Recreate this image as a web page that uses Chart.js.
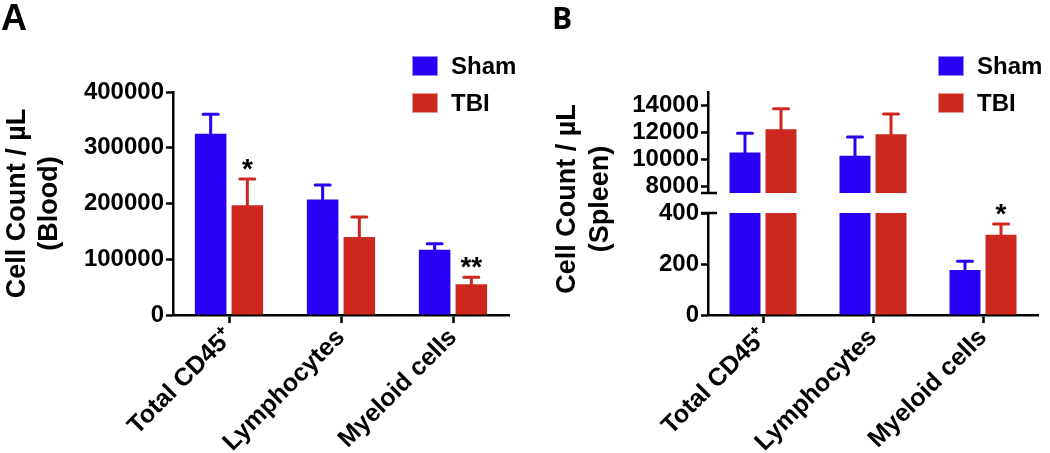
<!DOCTYPE html>
<html>
<head>
<meta charset="utf-8">
<script src="https://cdn.jsdelivr.net/npm/chart.js@4.4.1/dist/chart.umd.min.js"></script>
<style>
body { margin: 0; background: #fff; width: 1050px; height: 453px; overflow: hidden; position: relative; font-family: "Liberation Sans", Arial, sans-serif; }
canvas { position: absolute; top: 0; }
.letter { position: absolute; font-weight: bold; line-height: 1; color: #000; }
.key { position: absolute; width: 26px; height: 20px; box-sizing: border-box; }
.keytext { position: absolute; font-weight: bold; font-size: 24px; line-height: 24px; color: #000; }
#spleenTitle { position: absolute; left: 468px; top: 166px; width: 230px; height: 66px; text-align: center; font-weight: bold; font-size: 27px; line-height: 33px; transform: rotate(-90deg); white-space: nowrap; }
</style>
</head>
<body>
<canvas id="bloodChart" width="520" height="453" style="left:0px"></canvas>
<canvas id="spleenHigh" width="530" height="453" style="left:520px"></canvas>
<canvas id="spleenLow" width="530" height="453" style="left:520px"></canvas>

<div class="letter" style="left:1px;top:0px;font-size:36px;">A</div>
<div class="letter" style="left:552px;top:3px;font-size:30px;font-family:'Open Sans',sans-serif;font-weight:700;">B</div>

<div class="key" style="left:412px;top:56px;background:#2a00f5;border:1px solid #8f86ff;"></div>
<div class="keytext" style="left:451px;top:54px;">Sham</div>
<div class="key" style="left:412px;top:93px;background:#cc281f;border:1px solid #e89a94;"></div>
<div class="keytext" style="left:451px;top:91px;">TBI</div>

<div class="key" style="left:938px;top:56px;background:#2a00f5;border:1px solid #8f86ff;"></div>
<div class="keytext" style="left:977px;top:54px;">Sham</div>
<div class="key" style="left:938px;top:93px;background:#cc281f;border:1px solid #e89a94;"></div>
<div class="keytext" style="left:977px;top:91px;">TBI</div>

<div id="spleenTitle">Cell Count / µL<br>(Spleen)</div>

<script>
var categories = ["Total CD45⁺", "Lymphocytes", "Myeloid cells"];
var seriesNames = ["Sham", "TBI"];
var shamColor = "#2a00f5";
var tbiColor = "#cc281f";

// panel A, blood
var bloodSham = [325000, 207000, 117000];
var bloodShamErr = [35000, 26000, 11000];
var bloodTbi = [197000, 140000, 55000];
var bloodTbiErr = [47000, 36000, 12500];
var bloodTbiStars = ["*", "", "**"];
var bloodTicks = [0, 100000, 200000, 300000, 400000];
var bloodRange = [0, 400000];

// panel B, spleen (broken axis)
var spleenSham = [10500, 10270, 176];
var spleenShamErr = [1430, 1390, 35];
var spleenTbi = [12230, 11860, 315];
var spleenTbiErr = [1530, 1500, 42];
var spleenTbiStars = ["", "", "*"];
var spleenHighTicks = [8000, 10000, 12000, 14000];
var spleenHighRange = [7500, 15000];
var spleenLowTicks = [0, 200, 400];
var spleenLowRange = [0, 400];

var fontFamily = "'Liberation Sans', Arial, sans-serif";

// error bars (upper half only) and significance stars
var errorBars = {
    id: "errorBars",
    afterDatasetsDraw: function (chart) {
        var ctx = chart.ctx;
        var area = chart.chartArea;
        var y = chart.scales.y;
        chart.data.datasets.forEach(function (ds, d) {
            var meta = chart.getDatasetMeta(d);
            meta.data.forEach(function (bar, i) {
                var val = ds.data[i];
                var top = val + ds.errors[i];
                var yVal = y.getPixelForValue(val);
                var yTop = y.getPixelForValue(top);

                ctx.save();
                ctx.beginPath();
                ctx.rect(area.left, area.top, area.right - area.left, area.bottom - area.top);
                ctx.clip();
                ctx.strokeStyle = ds.backgroundColor;
                ctx.lineWidth = 3;
                ctx.lineCap = "round";
                ctx.beginPath();
                ctx.moveTo(bar.x, yVal);
                ctx.lineTo(bar.x, yTop);
                ctx.moveTo(bar.x - 7.5, yTop);
                ctx.lineTo(bar.x + 7.5, yTop);
                ctx.stroke();
                ctx.restore();

                var star = ds.stars ? ds.stars[i] : "";
                if (star && top >= y.min && top <= y.max) {
                    ctx.save();
                    ctx.fillStyle = "#000";
                    ctx.font = "bold 28px " + fontFamily;
                    ctx.textAlign = "center";
                    ctx.textBaseline = "alphabetic";
                    ctx.fillText(star, bar.x, yTop - 1);
                    ctx.restore();
                }
            });
        });
    }
};

// little horizontal marks where the spleen axis is broken
var axisBreak = {
    id: "axisBreak",
    afterDraw: function (chart, args, opts) {
        if (!opts.at) return;
        var ctx = chart.ctx;
        var area = chart.chartArea;
        var yPix = opts.at === "bottom" ? area.bottom : area.top;
        ctx.save();
        ctx.strokeStyle = "#000";
        ctx.lineWidth = 2.5;
        ctx.beginPath();
        ctx.moveTo(area.left - 7, yPix);
        ctx.lineTo(area.left + 9, yPix);
        ctx.stroke();
        ctx.restore();
    }
};

function makeDatasets(sham, shamErr, tbi, tbiErr, tbiStars) {
    return [
        { label: seriesNames[0], data: sham, errors: shamErr, stars: null, backgroundColor: shamColor,
          barPercentage: 0.86, categoryPercentage: 0.655 },
        { label: seriesNames[1], data: tbi, errors: tbiErr, stars: tbiStars, backgroundColor: tbiColor,
          barPercentage: 0.86, categoryPercentage: 0.655 }
    ];
}

function yAxis(range, ticks, width, title) {
    return {
        type: "linear",
        min: range[0],
        max: range[1],
        afterBuildTicks: function (scale) {
            scale.ticks = ticks.map(function (v) { return { value: v }; });
        },
        afterFit: function (scale) { scale.width = width; },
        ticks: {
            color: "#000",
            padding: 2,
            font: { family: fontFamily, size: 24, weight: "bold" },
            callback: function (v) { return String(v); }
        },
        grid: { drawOnChartArea: false, drawTicks: true, tickLength: 7, tickWidth: 2.5, tickColor: "#000" },
        border: { display: true, color: "#000", width: 2.5 },
        title: title ? {
            display: true,
            text: title,
            color: "#000",
            padding: { top: 1, bottom: 0 },
            font: { family: fontFamily, size: 27, weight: "bold", lineHeight: 1.2 }
        } : { display: false }
    };
}

function xAxis(show) {
    return {
        type: "category",
        display: show,
        afterFit: function (scale) { if (show) scale.height = 138; },
        ticks: {
            color: "#000",
            autoSkip: false,
            maxRotation: 45,
            minRotation: 45,
            padding: 0,
            font: { family: fontFamily, size: 25, weight: "bold" }
        },
        grid: { offset: false, drawOnChartArea: false, drawTicks: true, tickLength: 8, tickWidth: 2.5, tickColor: "#000" },
        border: { display: true, color: "#000", width: 2.5 }
    };
}

function makeChart(id, datasets, padding, y, x, breakAt) {
    return new Chart(document.getElementById(id), {
        type: "bar",
        data: { labels: categories, datasets: datasets },
        options: {
            responsive: false,
            animation: false,
            layout: { padding: padding },
            scales: { x: x, y: y },
            plugins: {
                legend: { display: false },
                tooltip: { enabled: false },
                axisBreak: { at: breakAt }
            }
        },
        plugins: [errorBars, axisBreak]
    });
}

makeChart("bloodChart",
    makeDatasets(bloodSham, bloodShamErr, bloodTbi, bloodTbiErr, bloodTbiStars),
    { left: 0, top: 92, right: 11, bottom: 0 },
    yAxis(bloodRange, bloodTicks, 173, ["Cell Count / µL", "(Blood)"]),
    xAxis(true), null);

makeChart("spleenHigh",
    makeDatasets(spleenSham, spleenShamErr, spleenTbi, spleenTbiErr, spleenTbiStars),
    { left: 0, top: 92, right: 12, bottom: 260 },
    yAxis(spleenHighRange, spleenHighTicks, 188, null),
    xAxis(false), "bottom");

makeChart("spleenLow",
    makeDatasets(spleenSham, spleenShamErr, spleenTbi, spleenTbiErr, spleenTbiStars),
    { left: 0, top: 213, right: 12, bottom: 0 },
    yAxis(spleenLowRange, spleenLowTicks, 188, null),
    xAxis(true), "top");
</script>
</body>
</html>
